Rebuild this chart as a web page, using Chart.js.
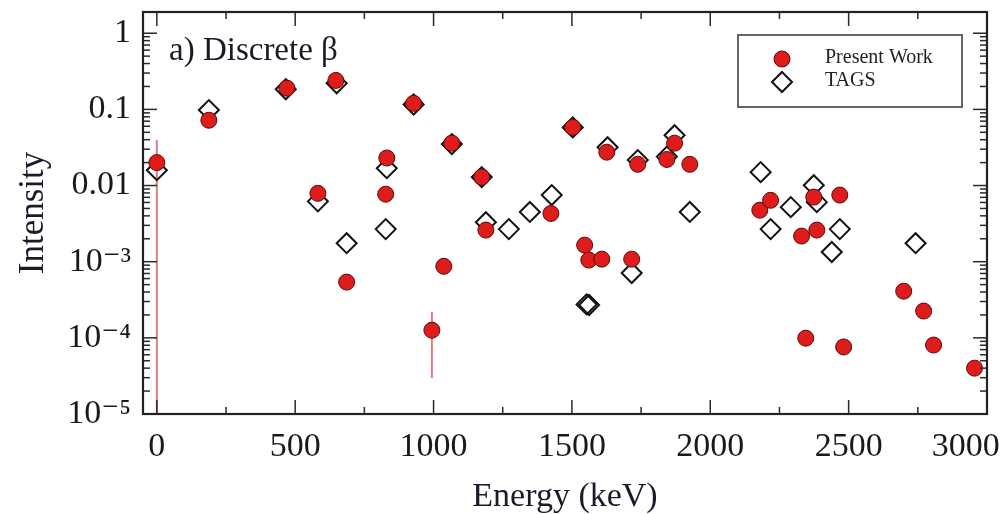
<!DOCTYPE html>
<html><head><meta charset="utf-8">
<script src="https://cdn.jsdelivr.net/npm/chart.js@4.4.1/dist/chart.umd.min.js"></script>
<style>html,body{margin:0;padding:0;background:#fff;}</style>
</head><body>
<canvas id="c" width="1005" height="514"></canvas>
<script>
// ---- data ----
const presentEnergy = [0, 188, 470, 582, 647, 686, 827, 831, 928, 994, 1037, 1066, 1174, 1189, 1424, 1503, 1546, 1561, 1608, 1626, 1716, 1738, 1843, 1871, 1926, 2179, 2218, 2330, 2345, 2374, 2385, 2468, 2482, 2699, 2771, 2807, 2955];
const presentIntensity = [0.020, 0.072, 0.19, 0.0079, 0.24, 5.4e-4, 0.0077, 0.023, 0.12, 1.26e-4, 8.7e-4, 0.036, 0.0129, 0.0026, 0.0043, 0.058, 1.65e-3, 1.05e-3, 1.08e-3, 0.0274, 1.08e-3, 0.019, 0.022, 0.036, 0.019, 4.75e-3, 6.4e-3, 2.17e-3, 9.9e-5, 7.05e-3, 2.6e-3, 7.5e-3, 7.6e-5, 4.1e-4, 2.25e-4, 8.05e-5, 4.0e-5];
const tagsEnergy = [0, 188, 466, 582, 650, 686, 827, 831, 928, 1066, 1174, 1189, 1272, 1348, 1427, 1503, 1553, 1562, 1629, 1716, 1738, 1843, 1871, 1926, 2182, 2218, 2291, 2374, 2385, 2439, 2468, 2742];
const tagsIntensity = [0.0159, 0.098, 0.184, 6.2e-3, 0.22, 1.75e-3, 2.68e-3, 0.0169, 0.116, 0.035, 0.0129, 3.3e-3, 2.68e-3, 4.5e-3, 7.5e-3, 0.058, 2.75e-4, 2.7e-4, 0.0319, 7.1e-4, 0.0216, 0.024, 0.0458, 4.5e-3, 0.015, 2.68e-3, 5.2e-3, 0.0101, 6.05e-3, 1.34e-3, 2.68e-3, 1.75e-3];
const errorEnergy = [0, 994];
const errorLow = [1e-6, 2.96e-5];
const errorHigh = [0.0395, 2.18e-4];
const xTickValues = [0, 500, 1000, 1500, 2000, 2500, 3000];
const xTickLabels = ['0', '500', '1000', '1500', '2000', '2500', '3000'];
const yTickValues = [1e-5, 1e-4, 1e-3, 0.01, 0.1, 1];
const yTickLabels = ['10\u207B\u2075', '10\u207B\u2074', '10\u207B\u00B3', '0.01', '0.1', '1'];
const seriesLabels = ['Present Work', 'TAGS'];
const panelLabel = 'a) Discrete \u03B2';

const SERIF = "'Liberation Serif', 'DejaVu Serif', serif";
const RED = 'rgb(222,28,28)';

const datasets = [
  {
    label: seriesLabels[0],
    data: presentEnergy.map((e, i) => ({x: e, y: presentIntensity[i]})),
    pointStyle: 'circle', pointRadius: 8, pointHoverRadius: 8,
    backgroundColor: RED, borderColor: 'rgb(90,10,10)', borderWidth: 1,
    order: 0
  },
  {
    label: seriesLabels[1],
    data: tagsEnergy.map((e, i) => ({x: e, y: tagsIntensity[i]})),
    pointStyle: 'rectRot', pointRadius: 10, pointHoverRadius: 10,
    backgroundColor: 'rgba(255,255,255,0)', borderColor: '#111', borderWidth: 2,
    order: 1
  }
];
errorEnergy.forEach((e, i) => {
  datasets.push({
    label: 'err' + i, isError: true,
    data: [{x: e, y: errorLow[i]}, {x: e, y: errorHigh[i]}],
    showLine: true, pointRadius: 0, borderColor: 'rgba(215,105,110,0.85)', borderWidth: 2,
    order: 5
  });
});

const decor = {
  id: 'decor',
  afterDraw(chart) {
    const {ctx, chartArea: a, scales: {x, y}} = chart;
    ctx.save();
    ctx.strokeStyle = '#2a2a2a';
    ctx.lineWidth = 1.5;
    const seg = (x1, y1, x2, y2) => { ctx.beginPath(); ctx.moveTo(x1, y1); ctx.lineTo(x2, y2); ctx.stroke(); };
    for (let v = 0; v <= 3000; v += 250) {
      const px = x.getPixelForValue(v);
      const len = v % 500 === 0 ? 14 : 7;
      seg(px, a.bottom, px, a.bottom - len);
      seg(px, a.top, px, a.top + len);
    }
    for (let e = -5; e <= 0; e++) {
      for (let m = 1; m <= 9; m++) {
        const v = m * Math.pow(10, e);
        if (v > y.max) break;
        const py = y.getPixelForValue(v);
        const len = m === 1 ? 14 : 7;
        seg(a.left, py, a.left + len, py);
        seg(a.right, py, a.right - len, py);
      }
    }
    ctx.lineWidth = 2.2;
    ctx.strokeStyle = '#222';
    ctx.strokeRect(a.left, a.top, a.right - a.left, a.bottom - a.top);

    // panel label
    ctx.fillStyle = '#1a1a2a';
    ctx.font = "33px " + SERIF;
    ctx.textAlign = 'left';
    ctx.textBaseline = 'alphabetic';
    ctx.fillText(panelLabel, a.left + 26, a.top + 48);

    // legend
    const bx = a.right - 249, by = a.top + 23, bw = 224, bh = 72;
    ctx.fillStyle = '#fff';
    ctx.fillRect(bx, by, bw, bh);
    ctx.lineWidth = 1.8;
    ctx.strokeStyle = '#555';
    ctx.strokeRect(bx, by, bw, bh);
    const rows = [by + 24, by + 47];
    chart.data.datasets.filter(d => !d.isError).forEach((d, i) => {
      ctx.save();
      ctx.fillStyle = d.backgroundColor;
      ctx.strokeStyle = d.borderColor;
      ctx.lineWidth = d.borderWidth;
      Chart.helpers.drawPoint(ctx, {pointStyle: d.pointStyle, radius: d.pointRadius, borderWidth: d.borderWidth}, bx + 44, rows[i]);
      ctx.restore();
      ctx.fillStyle = '#222';
      ctx.font = "20px " + SERIF;
      ctx.textAlign = 'left';
      ctx.textBaseline = 'middle';
      ctx.fillText(d.label, bx + 87, rows[i] - 1);
    });
    ctx.restore();
  }
};

new Chart(document.getElementById('c'), {
  type: 'scatter',
  data: {datasets},
  options: {
    responsive: false,
    devicePixelRatio: 1,
    animation: false,
    events: [],
    layout: {padding: {top: 12, right: 18, left: 0, bottom: 0}},
    plugins: {legend: {display: false}, tooltip: {enabled: false}},
    scales: {
      x: {
        type: 'linear', min: -50, max: 3000,
        grid: {display: false, drawTicks: false},
        border: {display: false},
        afterBuildTicks: s => { s.ticks = xTickValues.map(v => ({value: v})); },
        afterFit: s => { s.height = 100; s.paddingLeft = 0; s.paddingRight = 0; },
        ticks: {
          font: {family: SERIF, size: 34}, color: '#1a1a1a', padding: 13, maxRotation: 0, autoSkip: false,
          callback: (v, i) => i === xTickLabels.length - 1 ? xTickLabels[i] + '     ' : xTickLabels[i]
        },
        title: {display: true, text: 'Energy (keV)', font: {family: SERIF, size: 34, lineHeight: 1}, color: '#1a1a2a', padding: 0}
      },
      y: {
        type: 'logarithmic', min: 1e-5, max: 1.9,
        grid: {display: false, drawTicks: false},
        border: {display: false},
        afterBuildTicks: s => { s.ticks = yTickValues.map(v => ({value: v})); },
        afterFit: s => { s.width = 143; s.paddingTop = 0; s.paddingBottom = 0; },
        ticks: {
          font: {family: SERIF, size: 34}, color: '#1a1a1a', padding: 12, autoSkip: false,
          callback: (v, i) => yTickLabels[i]
        },
        title: {display: true, text: 'Intensity', font: {family: SERIF, size: 35, lineHeight: 1}, color: '#1a1a2a', padding: 16}
      }
    }
  },
  plugins: [decor]
});
</script>
</body></html>
